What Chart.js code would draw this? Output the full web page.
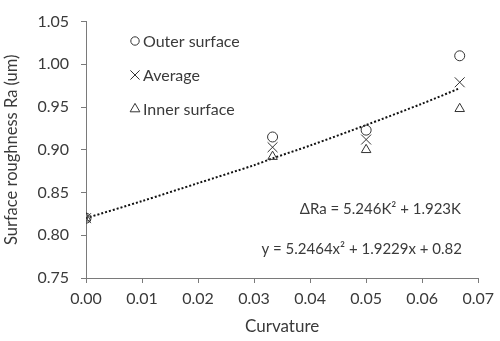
<!DOCTYPE html>
<html><head><meta charset="utf-8">
<script src="https://cdn.jsdelivr.net/npm/chart.js@4.4.0/dist/chart.umd.min.js"></script>
<style>html,body{margin:0;padding:0;background:#fff}canvas{display:block}</style>
</head><body>
<canvas id="c" width="500" height="341"></canvas>
<script>
const curvature = [0, 0.0333, 0.05, 0.0667];
const outerSurface = [0.82, 0.915, 0.923, 1.010];
const average = [0.82, 0.903, 0.912, 0.979];
const innerSurface = [0.82, 0.892, 0.900, 0.948];
const trendX = [0, 0.01, 0.02, 0.03, 0.0333, 0.04, 0.05, 0.06, 0.0667];
const trendY = [0.820, 0.840, 0.861, 0.882, 0.890, 0.905, 0.929, 0.954, 0.972];
const seriesNames = ['Outer surface', 'Average', 'Inner surface'];
const eqTexts = ['\u0394Ra = 5.246K\u00B2 + 1.923K', 'y = 5.2464x\u00B2 + 1.9229x + 0.82'];
const yTicks = [0.75, 0.80, 0.85, 0.90, 0.95, 1.00, 1.05];
const xTicks = [0.00, 0.01, 0.02, 0.03, 0.04, 0.05, 0.06, 0.07];

const pts = (xs, ys) => xs.map((x, i) => ({x: x, y: ys[i]}));
const FONT = 'Lato, "Open Sans", sans-serif';
const TXT = '#3a3a3a';
const MK = '#333333';
const AX = '#7a7a7a';

const annot = {
  id: 'annot',
  afterDatasetsDraw(chart) {
    const ctx = chart.ctx;
    ctx.save();
    const styles = ['circle', 'crossRot', 'triangle'];
    const radii = [4.2, 6.5, 5.6];
    const ly = [41, 75, 109];
    ctx.strokeStyle = MK; ctx.fillStyle = 'rgba(0,0,0,0)'; ctx.lineWidth = 1;
    for (let i = 0; i < 3; i++) {
      Chart.helpers.drawPoint(ctx, {pointStyle: styles[i], radius: radii[i], borderWidth: 1}, 135, ly[i]);
    }
    ctx.fillStyle = TXT;
    ctx.font = '16px ' + FONT;
    ctx.textBaseline = 'middle';
    ctx.textAlign = 'left';
    for (let i = 0; i < 3; i++) ctx.fillText(seriesNames[i], 143, ly[i] + 1);
    ctx.font = '15px ' + FONT;
    ctx.textAlign = 'right';
    ctx.fillText(eqTexts[0], 461, 209);
    ctx.fillText(eqTexts[1], 462, 249);
    ctx.restore();
  }
};

const pointDs = (label, data, style, r) => ({
  label: label, data: data, pointStyle: style, pointRadius: r, pointHoverRadius: r,
  borderColor: MK, backgroundColor: 'rgba(0,0,0,0)', borderWidth: 1, showLine: false
});

Chart.defaults.font.family = FONT;
Chart.defaults.color = TXT;

new Chart(document.getElementById('c'), {
  type: 'scatter',
  data: {
    datasets: [
      pointDs(seriesNames[0], pts(curvature, outerSurface), 'circle', 5),
      pointDs(seriesNames[1], pts(curvature, average), 'crossRot', 7),
      pointDs(seriesNames[2], pts(curvature, innerSurface), 'triangle', 5.5),
      {label: 'trend', data: pts(trendX, trendY), showLine: true, pointRadius: 0,
       borderColor: '#111', borderWidth: 2, borderDash: [2, 2], tension: 0.3, fill: false}
    ]
  },
  options: {
    responsive: false, animation: false, devicePixelRatio: 1,
    layout: {padding: {left: 0, top: 12, right: 18, bottom: 0}},
    plugins: {legend: {display: false}, tooltip: {enabled: false}},
    scales: {
      x: {
        type: 'linear', min: 0, max: 0.07,
        afterBuildTicks: s => { s.ticks = xTicks.map(v => ({value: v})); },
        afterFit: s => { s.height = 63; },
        ticks: {callback: v => v.toFixed(2), font: {size: 16}, color: TXT, padding: 6, maxRotation: 0},
        grid: {display: true, drawOnChartArea: false, drawTicks: true, tickLength: 5, color: AX},
        border: {display: true, color: AX, width: 1},
        title: {display: true, text: 'Curvature', font: {size: 17}, color: TXT, padding: {top: 6}}
      },
      y: {
        type: 'linear', min: 0.75, max: 1.05,
        afterBuildTicks: s => { s.ticks = yTicks.map(v => ({value: v})); },
        afterFit: s => { s.width = 86; },
        ticks: {callback: v => v.toFixed(2), font: {size: 16}, color: TXT, padding: 12},
        grid: {display: true, drawOnChartArea: false, drawTicks: true, tickLength: 5, color: AX},
        border: {display: true, color: AX, width: 1},
        title: {display: true, text: 'Surface roughness Ra (um)', font: {size: 16.5}, color: TXT, padding: {top: 2, bottom: 0}}
      }
    }
  },
  plugins: [annot]
});
</script>
</body></html>
